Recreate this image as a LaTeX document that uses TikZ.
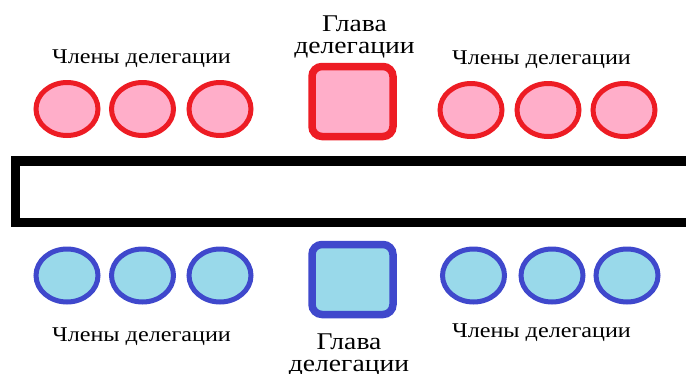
\documentclass[tikz,border=0pt]{standalone}
\usepackage{fontspec}
\usetikzlibrary{shapes.geometric}
\newfontfamily\labelfont[FakeStretch=1.15]{Liberation Serif}

\definecolor{redline}{HTML}{ED1C24}
\definecolor{rosefill}{HTML}{FFAEC9}
\definecolor{blueline}{HTML}{3F48CC}
\definecolor{cyanfill}{HTML}{99D9EA}

\tikzset{
  member/.style={ellipse, line width=5pt, minimum width=62pt, minimum height=53pt, inner sep=0pt},
  redmember/.style={member, draw=redline, fill=rosefill},
  bluemember/.style={member, draw=blueline, fill=cyanfill},
  leader/.style={rectangle, rounded corners=10pt, line width=7.5pt, minimum width=81pt, minimum height=70pt, inner sep=0pt},
  redleader/.style={leader, draw=redline, fill=rosefill},
  blueleader/.style={leader, draw=blueline, fill=cyanfill},
  grouplabel/.style={anchor=base, inner sep=0pt, font=\labelfont\fontsize{21}{21}\selectfont},
  % multi-line label: anchor=base sits on the baseline of the last line
  headlabel/.style={anchor=base, inner sep=0pt, align=center, font=\labelfont\fontsize{24}{22}\selectfont},
}

\begin{document}
\begin{tikzpicture}[x=1pt, y=-1pt]
  \useasboundingbox (0,0) rectangle (686,373);
  \clip (0,0) rectangle (686,373);

  % negotiating table
  \node[draw=black, line width=9.5pt, minimum width=700pt, minimum height=61.5pt, inner sep=0pt] (table) at (365.5,191.75) {};

  % upper delegation
  \node[redmember] (ra1) at (67,109) {};
  \node[redmember] (ra2) at (142.5,109) {};
  \node[redmember] (ra3) at (220,109) {};
  \node[redleader] (rhead) at (352.5,101.5) {};
  \node[redmember] (rb1) at (471,110) {};
  \node[redmember] (rb2) at (548,110) {};
  \node[redmember] (rb3) at (624,110) {};

  \node[grouplabel] (rla) at (141.5,63) {Члены делегации};
  \node[grouplabel] (rlb) at (541.5,64) {Члены делегации};
  \node[headlabel] (rhl) at (354.5,53) {Глава\\делегации};

  % lower delegation
  \node[bluemember] (ba1) at (67,275.5) {};
  \node[bluemember] (ba2) at (142.5,275.5) {};
  \node[bluemember] (ba3) at (220,275.5) {};
  \node[blueleader] (bhead) at (352.5,279.5) {};
  \node[bluemember] (bb1) at (473.5,275.5) {};
  \node[bluemember] (bb2) at (552,275.5) {};
  \node[bluemember] (bb3) at (627,275.5) {};

  \node[grouplabel] (bla) at (141.5,341) {Члены делегации};
  \node[grouplabel] (blb) at (541.5,337.5) {Члены делегации};
  \node[headlabel] (bhl) at (349,371) {Глава\\делегации};
\end{tikzpicture}
\end{document}
